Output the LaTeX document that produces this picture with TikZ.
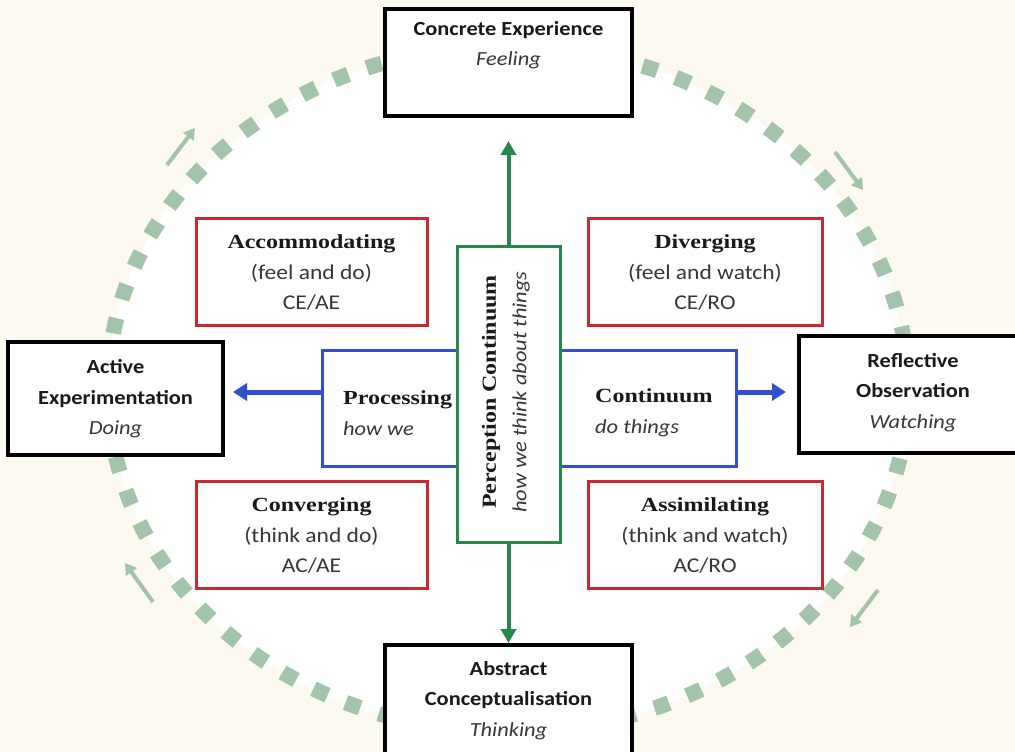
\documentclass[tikz,border=0pt]{standalone}
\usepackage{fontspec}
\setmainfont{Carlito}[FakeStretch=1.12]
\newfontfamily\serifb{Liberation Serif}[FakeStretch=1.2]
\usetikzlibrary{arrows.meta}
\definecolor{cream}{RGB}{252,249,240}
\definecolor{ringc}{RGB}{163,196,170}
\definecolor{redc}{RGB}{205,40,45}
\definecolor{bluec}{RGB}{50,80,205}
\definecolor{greenc}{RGB}{40,135,75}
\definecolor{txtc}{RGB}{25,25,25}
\definecolor{subc}{RGB}{55,55,55}
\tikzset{
  blackbox/.style={draw=black, line width=3.5pt, fill=white, rectangle, inner sep=0pt},
  redbox/.style={draw=redc, line width=3pt, fill=white, rectangle, inner sep=0pt, minimum width=231pt, minimum height=107pt},
  bluebox/.style={draw=bluec, line width=3pt, fill=white, rectangle, inner sep=0pt},
  greenbox/.style={draw=greenc, line width=3pt, fill=white, rectangle, inner sep=0pt},
  btxt/.style={text=txtc, align=center, inner sep=0pt, font=\fontsize{20}{30.5}\selectfont},
  rtxt/.style={text=subc, align=center, inner sep=0pt, font=\fontsize{21}{30.5}\selectfont},
  garrow/.style={draw=greenc, line width=4pt, -{Triangle[width=15pt,length=14pt]}},
  barrow/.style={draw=bluec, line width=5pt, -{Triangle[width=17pt,length=14pt]}},
  ringarrow/.style={draw=ringc, line width=4pt, -{Triangle[width=13pt,length=11pt]}},
}
\newcommand{\rtitle}[1]{{\color{txtc}\serifb\bfseries\fontsize{20}{30.5}\selectfont #1}}
\begin{document}
\begin{tikzpicture}[x=1pt,y=-1pt]
\clip (0,0) rectangle (1015,752);
\fill[cream] (0,0) rectangle (1015,752);
% ring
\fill[white] (508,389) ellipse [x radius=400, y radius=343];
\draw[ringc, line width=15.5pt, dash pattern=on 15.5pt off 19.5pt] (508,389) ellipse [x radius=400, y radius=343];
% ring arrows
\coordinate (r1s) at (167,165); \coordinate (r1e) at (195,128);
\coordinate (r2s) at (835,152); \coordinate (r2e) at (863,190);
\coordinate (r3s) at (878,590); \coordinate (r3e) at (850,627);
\coordinate (r4s) at (153,602); \coordinate (r4e) at (125,563);
\draw[ringarrow] (r1s) -- (r1e);
\draw[ringarrow] (r2s) -- (r2e);
\draw[ringarrow] (r3s) -- (r3e);
\draw[ringarrow] (r4s) -- (r4e);
% black boxes
\node[blackbox, minimum width=247pt, minimum height=107pt] (ce) at (508.5,62.5) {};
\node[blackbox, minimum width=247pt, minimum height=145pt] (ac) at (508.5,717.5) {};
\node[blackbox, minimum width=215pt, minimum height=113pt] (ae) at (115.5,398.5) {};
\node[blackbox, minimum width=231pt, minimum height=117pt] (ro) at (914.5,394.5) {};
\node[btxt] (cet) at (508.5,45) {\textbf{Concrete Experience}\\{\color{subc}\itshape Feeling}};
\node[btxt] (act) at (508.5,700.5) {\textbf{Abstract}\\\textbf{Conceptualisation}\\{\color{subc}\itshape Thinking}};
\node[btxt] (aet) at (115.5,399) {\textbf{Active}\\\textbf{Experimentation}\\{\color{subc}\itshape Doing}};
\node[btxt] (rot) at (913,392.5) {\textbf{Reflective}\\\textbf{Observation}\\{\color{subc}\itshape Watching}};
% red boxes
\node[redbox] (acc) at (311.5,272) {};
\node[redbox, minimum width=234pt] (div) at (705,272) {};
\node[redbox] (con) at (311.5,535) {};
\node[redbox, minimum width=234pt] (ass) at (705,535) {};
\node[rtxt] (acct) at (311.5,273) {\rtitle{Accommodating}\\(feel and do)\\CE/AE};
\node[rtxt] (divt) at (705,273) {\rtitle{Diverging}\\(feel and watch)\\CE/RO};
\node[rtxt] (cont) at (311.5,536) {\rtitle{Converging}\\(think and do)\\AC/AE};
\node[rtxt] (asst) at (705,536) {\rtitle{Assimilating}\\(think and watch)\\AC/RO};
% blue box
\node[bluebox, minimum width=414pt, minimum height=116pt] (blue) at (529,408) {};
\coordinate (tipL) at (233,392);
\coordinate (tipR) at (786,392);
\draw[barrow] (tipL -| blue.west) -- (tipL);
\draw[barrow] (tipR -| blue.east) -- (tipR);
\node[btxt, anchor=west, align=left] (proc) at (343,413) {\rtitle{Processing}\\{\color{subc}\itshape how we}};
\node[btxt, anchor=west, align=left] (cont2) at (595,413) {\rtitle{Continuum}\\{\color{subc}\itshape do things}};
% green box
\node[greenbox, minimum width=103pt, minimum height=296pt] (green) at (508.5,394) {};
\coordinate (tipT) at (508.5,141);
\coordinate (tipB) at (508.5,643);
\draw[garrow] (green.north) -- (tipT);
\draw[garrow] (green.south) -- (tipB);
\node[btxt, rotate=90] (gt) at (506,392) {\rtitle{Perception Continuum}\\{\color{subc}\itshape how we think about things}};
\end{tikzpicture}
\end{document}
